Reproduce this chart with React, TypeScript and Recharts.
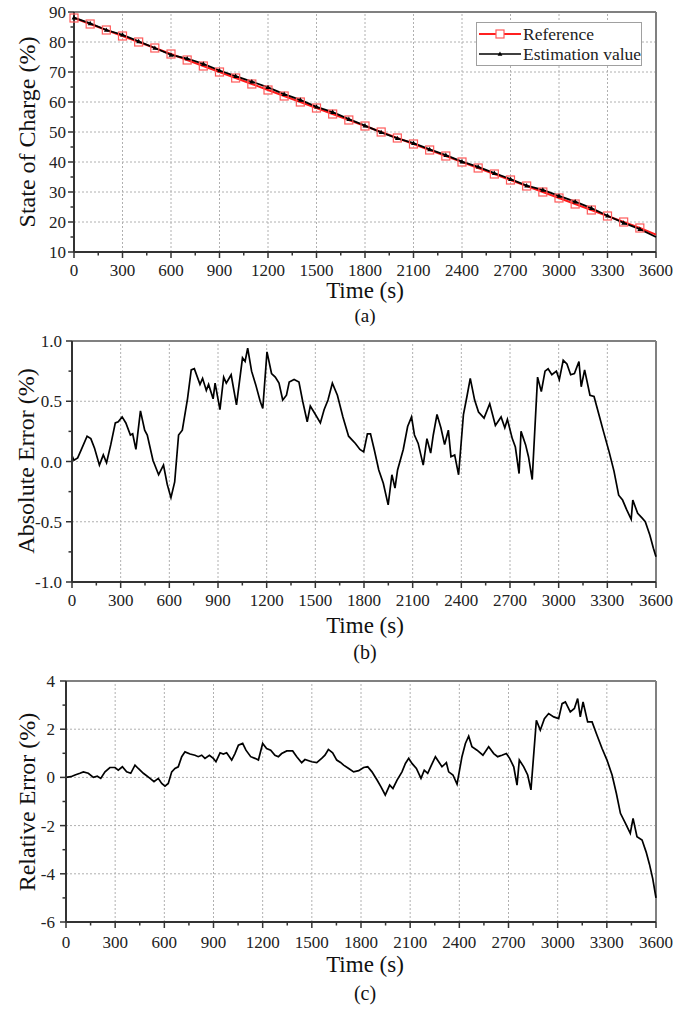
import React from 'react';
import { LineChart, Line, XAxis, YAxis, ReferenceLine, Legend } from 'recharts';

const FONT = '"Liberation Serif", "Times New Roman", Times, serif';
const AXIS = '#333';
const FRAME = '#808080';
const GRID = '#b0b0b0';

// ---------- shared time axis ----------
const timeMajorTicks = [0, 300, 600, 900, 1200, 1500, 1800, 2100, 2400, 2700, 3000, 3300, 3600];
const timeMinorTicks = [150, 450, 750, 1050, 1350, 1650, 1950, 2250, 2550, 2850, 3150, 3450];

// ---------- (a) state of charge ----------
const socTime = [0, 100, 200, 300, 400, 500, 600, 700, 800, 900, 1000, 1100, 1200, 1300, 1400, 1500, 1600, 1700, 1800, 1900, 2000, 2100, 2200, 2300, 2400, 2500, 2600, 2700, 2800, 2900, 3000, 3100, 3200, 3300, 3400, 3500, 3600];
const referenceSoc = [88, 86, 84, 82, 80, 78, 76, 74, 72, 70, 68, 66, 64, 62, 60, 58, 56, 54, 52, 50, 48, 46, 44, 42, 40, 38, 36, 34, 32, 30, 28, 26, 24, 22, 20, 18, 15.8];
const estimatedSoc = [88.1, 86.2, 84.0, 82.4, 80.2, 78.0, 75.7, 74.5, 72.7, 70.5, 68.6, 66.8, 64.9, 62.6, 60.7, 58.4, 56.6, 54.3, 52.1, 49.9, 47.9, 46.3, 44.2, 42.3, 40.1, 38.4, 36.3, 34.3, 32.1, 30.7, 28.7, 26.8, 24.6, 22.1, 19.7, 17.6, 15.0];
const socMajorTicks = [10, 20, 30, 40, 50, 60, 70, 80, 90];
const socMinorTicks = [15, 25, 35, 45, 55, 65, 75, 85];
const legendLabels = ['Reference', 'Estimation value'];

// ---------- (b) absolute error ----------
const absErrTime = [0, 12, 35, 58, 93, 116, 139, 169, 193, 213, 239, 267, 285, 309, 332, 360, 374, 394, 422, 448, 464, 499, 534, 564, 587, 610, 633, 657, 680, 712, 735, 754, 789, 805, 828, 842, 870, 882, 912, 935, 951, 981, 1014, 1051, 1067, 1083, 1107, 1132, 1160, 1176, 1202, 1230, 1253, 1276, 1299, 1322, 1339, 1369, 1399, 1422, 1450, 1469, 1496, 1531, 1554, 1578, 1605, 1636, 1670, 1705, 1747, 1775, 1798, 1821, 1840, 1863, 1891, 1919, 1949, 1972, 1991, 2007, 2042, 2069, 2093, 2111, 2134, 2165, 2188, 2211, 2227, 2250, 2274, 2297, 2320, 2336, 2359, 2383, 2413, 2436, 2455, 2482, 2506, 2540, 2575, 2610, 2645, 2668, 2684, 2714, 2733, 2756, 2768, 2796, 2814, 2837, 2870, 2893, 2916, 2935, 2958, 2986, 3004, 3028, 3051, 3074, 3097, 3125, 3139, 3160, 3193, 3218, 3248, 3276, 3311, 3341, 3370, 3394, 3419, 3447, 3457, 3487, 3515, 3534, 3562, 3584, 3600];
const absErrValue = [0.05, 0.01, 0.03, 0.1, 0.21, 0.19, 0.11, -0.03, 0.055, -0.01, 0.14, 0.32, 0.33, 0.37, 0.32, 0.22, 0.23, 0.1, 0.42, 0.26, 0.22, 0.01, -0.11, -0.03, -0.19, -0.3, -0.17, 0.22, 0.26, 0.52, 0.76, 0.77, 0.64, 0.69, 0.59, 0.64, 0.52, 0.65, 0.43, 0.7, 0.65, 0.72, 0.47, 0.86, 0.83, 0.94, 0.75, 0.64, 0.5, 0.44, 0.91, 0.73, 0.7, 0.65, 0.51, 0.55, 0.66, 0.68, 0.66, 0.5, 0.33, 0.46, 0.4, 0.32, 0.43, 0.51, 0.65, 0.55, 0.37, 0.21, 0.15, 0.1, 0.08, 0.23, 0.23, 0.1, -0.07, -0.18, -0.36, -0.11, -0.22, -0.07, 0.1, 0.29, 0.37, 0.22, 0.15, -0.03, 0.19, 0.07, 0.22, 0.39, 0.28, 0.14, 0.26, 0.04, 0.055, -0.11, 0.39, 0.55, 0.69, 0.51, 0.41, 0.36, 0.48, 0.3, 0.37, 0.28, 0.35, 0.19, 0.12, -0.1, 0.25, 0.14, 0.04, -0.15, 0.7, 0.58, 0.75, 0.77, 0.72, 0.75, 0.68, 0.84, 0.81, 0.72, 0.73, 0.83, 0.62, 0.76, 0.55, 0.54, 0.39, 0.25, 0.08, -0.08, -0.28, -0.32, -0.4, -0.48, -0.32, -0.43, -0.47, -0.5, -0.61, -0.72, -0.79];
const absMajorTicks = [-1, -0.5, 0, 0.5, 1];
const absMinorTicks = [-0.75, -0.25, 0.25, 0.75];

// ---------- (c) relative error ----------
const relErrTime = [0, 30, 55, 85, 106, 136, 167, 191, 212, 238, 268, 299, 319, 344, 370, 395, 421, 441, 472, 513, 537, 563, 584, 604, 624, 645, 665, 685, 706, 726, 757, 787, 807, 828, 848, 875, 899, 915, 940, 960, 980, 1011, 1031, 1052, 1078, 1098, 1127, 1153, 1174, 1200, 1224, 1249, 1275, 1296, 1316, 1347, 1383, 1408, 1438, 1458, 1499, 1530, 1560, 1580, 1601, 1627, 1652, 1675, 1694, 1725, 1755, 1786, 1816, 1841, 1867, 1898, 1922, 1948, 1975, 1995, 2020, 2050, 2071, 2091, 2111, 2138, 2166, 2186, 2207, 2227, 2254, 2274, 2294, 2321, 2335, 2361, 2386, 2416, 2437, 2457, 2477, 2508, 2544, 2579, 2610, 2634, 2660, 2687, 2707, 2732, 2752, 2766, 2793, 2817, 2837, 2870, 2894, 2919, 2945, 2976, 3006, 3027, 3047, 3077, 3102, 3122, 3138, 3155, 3183, 3210, 3236, 3271, 3301, 3332, 3358, 3383, 3413, 3443, 3460, 3484, 3515, 3540, 3560, 3580, 3600];
const relErrValue = [0, 0.03, 0.1, 0.17, 0.23, 0.17, 0, 0.05, -0.04, 0.23, 0.41, 0.41, 0.3, 0.44, 0.23, 0.17, 0.51, 0.37, 0.17, -0.04, -0.18, -0.04, -0.25, -0.36, -0.25, 0.23, 0.37, 0.44, 0.86, 1.06, 0.97, 0.92, 0.86, 0.92, 0.79, 0.92, 0.79, 0.65, 1.02, 0.97, 1.02, 0.72, 0.99, 1.34, 1.41, 1.13, 0.86, 0.79, 0.72, 1.41, 1.2, 1.13, 0.92, 0.86, 0.99, 1.1, 1.1, 0.86, 0.61, 0.74, 0.65, 0.61, 0.79, 0.92, 1.16, 1.02, 0.72, 0.62, 0.51, 0.37, 0.23, 0.28, 0.41, 0.44, 0.23, -0.11, -0.39, -0.73, -0.32, -0.46, -0.11, 0.23, 0.58, 0.79, 0.58, 0.37, -0.04, 0.3, 0.17, 0.47, 0.86, 0.65, 0.44, 0.61, 0.23, 0.1, -0.28, 0.86, 1.41, 1.71, 1.27, 1.13, 0.92, 1.27, 0.99, 0.86, 0.92, 0.99, 0.79, 0.44, -0.32, 0.72, 0.44, 0.1, -0.52, 2.37, 1.96, 2.44, 2.65, 2.51, 2.44, 3.06, 3.13, 2.72, 2.86, 3.27, 2.51, 3.13, 2.3, 2.3, 1.82, 1.2, 0.72, 0.1, -0.66, -1.49, -1.9, -2.32, -1.7, -2.46, -2.6, -3.1, -3.6, -4.2, -5.0];
const relMajorTicks = [-6, -4, -2, 0, 2, 4];
const relMinorTicks = [-5, -3, -1, 1, 3];

// ---------- built tables ----------
const refData = socTime.map((t, i) => ({ t, v: referenceSoc[i] }));
const estData = socTime.map((t, i) => ({ t, v: estimatedSoc[i] }));
const absData = absErrTime.map((t, i) => ({ t, v: absErrValue[i] }));
const relData = relErrTime.map((t, i) => ({ t, v: relErrValue[i] }));

const allTimeTicks = [...timeMajorTicks, ...timeMinorTicks].sort((a, b) => a - b);

const makeXTick = (labelDy: number) => (props: any) => {
  const { x, y, payload } = props;
  const v = payload.value;
  const major = timeMajorTicks.includes(v);
  return (
    <g>
      <line x1={x} x2={x} y1={y} y2={y + (major ? 6 : 3.5)} stroke={AXIS} strokeWidth={1.5} />
      {major && (
        <text x={x} y={y + labelDy} textAnchor="middle" fontSize={17} fontFamily={FONT} fill="#222">
          {v}
        </text>
      )}
    </g>
  );
};

const makeYTick = (majors: number[], fmt: (v: number) => string, gap: number) => (props: any) => {
  const { x, y, payload } = props;
  const v = payload.value;
  const major = majors.some((m) => Math.abs(m - v) < 1e-9);
  return (
    <g>
      <line x1={x} x2={x - (major ? 6 : 3.5)} y1={y} y2={y} stroke={AXIS} strokeWidth={1.5} />
      {major && (
        <text x={x - gap} y={y + 6} textAnchor="end" fontSize={17} fontFamily={FONT} fill="#222">
          {fmt(v)}
        </text>
      )}
    </g>
  );
};

const squareDot = (props: any) => {
  const { cx, cy, index, payload } = props;
  if (payload.t >= 3600) return <g key={`sq-${index}`} />;
  return <rect key={`sq-${index}`} x={cx - 4} y={cy - 4} width={8} height={8} fill="none" stroke="#ff5a5a" strokeWidth={1.2} />;
};

const triangleDot = (props: any) => {
  const { cx, cy, index, payload } = props;
  if (payload.t >= 3600) return <g key={`tr-${index}`} />;
  return <path key={`tr-${index}`} d={`M${cx},${cy - 2.6} L${cx + 2.4},${cy + 1.8} L${cx - 2.4},${cy + 1.8} Z`} fill="#000" />;
};

const renderLegend = () => (
  <div
    style={{
      border: '1px solid #a0a0a0',
      background: '#fff',
      width: 166,
      boxSizing: 'border-box',
      padding: '1px 0 1px 0',
      fontFamily: FONT,
      fontSize: 17.5,
      color: '#222',
      lineHeight: '20px',
    }}
  >
    {legendLabels.map((label, i) => (
      <div key={label} style={{ display: 'flex', alignItems: 'center', height: 20, whiteSpace: 'nowrap' }}>
        <svg width={46} height={14} style={{ flex: 'none' }}>
          {i === 0 ? (
            <g>
              <line x1={2} x2={44} y1={7} y2={7} stroke="#ff2020" strokeWidth={2} />
              <rect x={19} y={3} width={8} height={8} fill="#fff" stroke="#ff5a5a" strokeWidth={1.2} />
            </g>
          ) : (
            <g>
              <line x1={2} x2={44} y1={7} y2={7} stroke="#000" strokeWidth={1.6} />
              <path d="M23,4.4 L25.4,8.8 L20.6,8.8 Z" fill="#000" />
            </g>
          )}
        </svg>
        <span>{label}</span>
      </div>
    ))}
  </div>
);

type PanelProps = {
  top: number;
  height: number;
  margin: { top: number; right: number; bottom: number; left: number };
  yDomain: [number, number];
  yMajor: number[];
  yMinor: number[];
  fmt: (v: number) => string;
  xLabelDy: number;
  yGap: number;
  children: React.ReactNode;
  legend?: boolean;
};

function Panel({ top, height, margin, yDomain, yMajor, yMinor, fmt, xLabelDy, yGap, children, legend }: PanelProps) {
  const yTicks = [...yMajor, ...yMinor].sort((a, b) => a - b);
  const gridY = yMajor.filter((v) => v > yDomain[0] && v < yDomain[1]);
  const gridX = timeMajorTicks.filter((v) => v > 0 && v < 3600);
  return (
    <div style={{ position: 'absolute', left: 0, top, width: 695, height }}>
      <LineChart width={695} height={height} margin={margin}>
        <XAxis
          dataKey="t"
          type="number"
          height={30}
          domain={[0, 3600]}
          ticks={allTimeTicks}
          interval={0}
          tickSize={0}
          tickMargin={0}
          tickLine={false}
          tick={makeXTick(xLabelDy)}
          axisLine={{ stroke: AXIS, strokeWidth: 2 }}
          allowDuplicatedCategory={false}
        />
        <YAxis
          type="number"
          width={50}
          domain={yDomain}
          ticks={yTicks}
          interval={0}
          tickSize={0}
          tickMargin={0}
          tickLine={false}
          tick={makeYTick(yMajor, fmt, yGap)}
          axisLine={{ stroke: AXIS, strokeWidth: 2 }}
          allowDataOverflow
        />
        {gridX.map((v) => (
          <ReferenceLine key={`gx${v}`} x={v} stroke={GRID} strokeDasharray="2 2" strokeWidth={1} />
        ))}
        {gridY.map((v) => (
          <ReferenceLine key={`gy${v}`} y={v} stroke={GRID} strokeDasharray="2 2" strokeWidth={1} />
        ))}
        <ReferenceLine y={yDomain[1]} stroke={FRAME} strokeWidth={2} />
        <ReferenceLine x={3600} stroke={FRAME} strokeWidth={2} />
        {legend && (
          <Legend
            layout="horizontal"
            verticalAlign="middle"
            align="center"
            content={renderLegend}
            wrapperStyle={{ top: 22, left: 476, width: 166 }}
          />
        )}
        {children}
      </LineChart>
    </div>
  );
}

const titleStyle: React.CSSProperties = {
  position: 'absolute',
  fontFamily: FONT,
  color: '#111',
  textAlign: 'center',
  whiteSpace: 'nowrap',
};

function XTitle({ cy, text, size }: { cy: number; text: string; size: number }) {
  const h = Math.round(size * 0.8);
  return (
    <div style={{ ...titleStyle, left: 265, width: 200, top: cy - h / 2, height: h, lineHeight: `${h}px`, fontSize: size }}>
      {text}
    </div>
  );
}

function YTitle({ cx, cy, text }: { cx: number; cy: number; text: string }) {
  const w = 260;
  const h = 26;
  return (
    <div
      style={{
        ...titleStyle,
        left: cx - w / 2,
        top: cy - h / 2,
        width: w,
        height: h,
        lineHeight: `${h}px`,
        fontSize: 24,
        transform: 'rotate(-90deg)',
      }}
    >
      {text}
    </div>
  );
}

export default function App() {
  return (
    <div style={{ position: 'absolute', left: 0, top: 0, width: 695, height: 1011, background: '#fff', overflow: 'hidden' }}>
      <Panel
        top={0}
        height={330}
        margin={{ top: 12, right: 39, bottom: 48, left: 24 }}
        yDomain={[10, 90]}
        yMajor={socMajorTicks}
        yMinor={socMinorTicks}
        fmt={(v) => String(v)}
        xLabelDy={24}
        yGap={8}
        legend
      >
        <Line data={refData} dataKey="v" name={legendLabels[0]} stroke="#ff1a1a" strokeWidth={2} dot={squareDot} isAnimationActive={false} />
        <Line data={estData} dataKey="v" name={legendLabels[1]} stroke="#000" strokeWidth={1.8} dot={triangleDot} isAnimationActive={false} />
      </Panel>
      <Panel
        top={330}
        height={330}
        margin={{ top: 11, right: 39, bottom: 48, left: 22 }}
        yDomain={[-1, 1]}
        yMajor={absMajorTicks}
        yMinor={absMinorTicks}
        fmt={(v) => v.toFixed(1)}
        xLabelDy={24}
        yGap={10}
      >
        <Line data={absData} dataKey="v" stroke="#000" strokeWidth={1.7} dot={false} isAnimationActive={false} />
      </Panel>
      <Panel
        top={660}
        height={351}
        margin={{ top: 21, right: 39, bottom: 59, left: 16 }}
        yDomain={[-6, 4]}
        yMajor={relMajorTicks}
        yMinor={relMinorTicks}
        fmt={(v) => String(v)}
        xLabelDy={26}
        yGap={11}
      >
        <Line data={relData} dataKey="v" stroke="#000" strokeWidth={1.7} dot={false} isAnimationActive={false} />
      </Panel>

      <YTitle cx={27} cy={132} text="State of Charge (%)" />
      <XTitle cy={291} text="Time (s)" size={23} />
      <XTitle cy={315} text="(a)" size={19} />

      <YTitle cx={26} cy={461} text="Absolute Error (%)" />
      <XTitle cy={626} text="Time (s)" size={23} />
      <XTitle cy={652} text="(b)" size={20} />

      <YTitle cx={27} cy={802} text="Relative Error (%)" />
      <XTitle cy={965} text="Time (s)" size={23} />
      <XTitle cy={993} text="(c)" size={20} />
    </div>
  );
}
